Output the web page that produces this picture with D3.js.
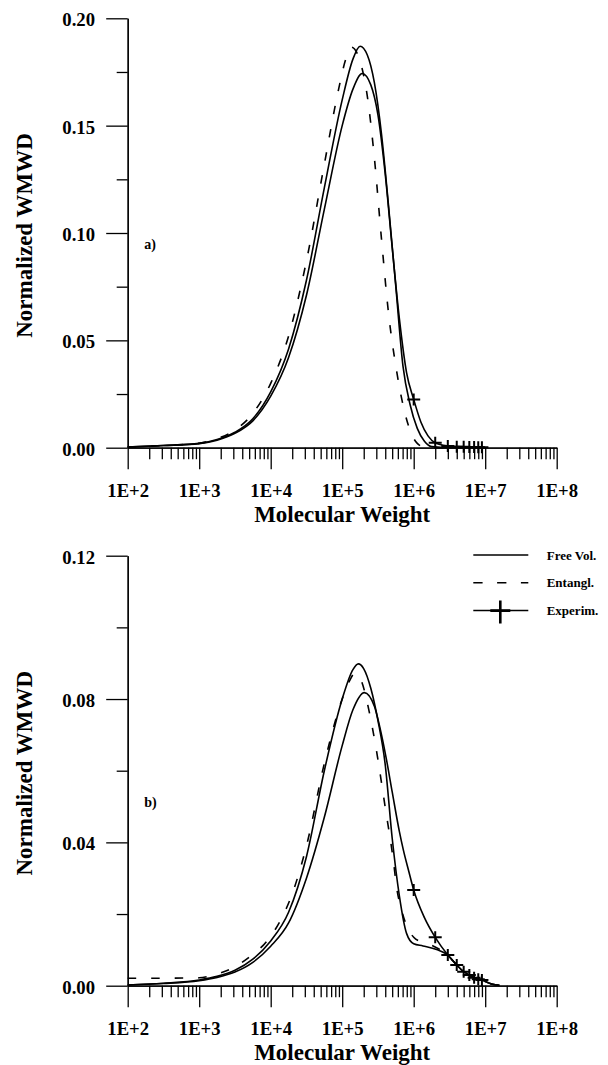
<!DOCTYPE html>
<html>
<head>
<meta charset="utf-8">
<script src="https://cdn.jsdelivr.net/npm/d3@7"></script>
<style>
  html, body { margin: 0; padding: 0; background: #fff; }
  svg { display: block; font-family: "Liberation Serif", "Times New Roman", serif; font-weight: bold; }
</style>
</head>
<body>
<svg id="chart" width="608" height="1065"></svg>
<script>
// ---- Axis tick values -------------------------------------------------
const mwMajorTicks = [1e2, 1e3, 1e4, 1e5, 1e6, 1e7, 1e8];
const yMajorTicksA = [0, 0.05, 0.10, 0.15, 0.20];
const yMinorTicksA = [0.025, 0.075, 0.125, 0.175];
const yMajorTicksB = [0, 0.04, 0.08, 0.12];
const yMinorTicksB = [0.02, 0.06, 0.10];

// ---- Panel a): log10(molecular weight) and normalized WMWD ------------
const freeA_logMW = [2.0, 2.5, 3.0, 3.25, 3.5, 3.75, 4.0, 4.25, 4.5, 4.75, 5.0, 5.15, 5.25, 5.35, 5.45, 5.55, 5.65, 5.75, 5.85, 5.95, 6.05, 6.15, 6.25, 6.5, 7.0];
const freeA_wmwd  = [0.0003, 0.001, 0.002, 0.0038, 0.0072, 0.0135, 0.026, 0.046, 0.078, 0.121, 0.162, 0.181, 0.187, 0.183, 0.170, 0.146, 0.112, 0.075, 0.038, 0.020, 0.009, 0.003, 0.0005, 0, 0];

const entA_logMW = [2.0, 2.5, 3.0, 3.25, 3.5, 3.75, 4.0, 4.25, 4.5, 4.75, 4.95, 5.05, 5.13, 5.25, 5.35, 5.45, 5.55, 5.65, 5.75, 5.85, 5.95, 6.05, 6.15, 6.3, 7.0];
const entA_wmwd  = [0.0003, 0.001, 0.0021, 0.0042, 0.0082, 0.0160, 0.030, 0.052, 0.087, 0.132, 0.167, 0.181, 0.1865, 0.180, 0.164, 0.135, 0.097, 0.062, 0.038, 0.020, 0.008, 0.002, 0.0003, 0, 0];

const expA_logMW = [2.0, 2.5, 3.0, 3.25, 3.5, 3.75, 4.0, 4.25, 4.5, 4.75, 5.0, 5.15, 5.28, 5.4, 5.5, 5.6, 5.7, 5.8, 5.9, 6.0, 6.1, 6.2, 6.301, 6.477, 6.602, 6.699, 6.778, 6.845, 6.903, 6.954, 7.0];
const expA_wmwd  = [0.0003, 0.001, 0.0019, 0.0035, 0.0067, 0.0125, 0.024, 0.042, 0.071, 0.111, 0.150, 0.167, 0.1743, 0.169, 0.155, 0.128, 0.093, 0.060, 0.035, 0.0225, 0.012, 0.0055, 0.0023, 0.0008, 0.0005, 0.0004, 0.0003, 0.0003, 0.0002, 0.0002, 0.0001];

// ---- Panel b) -----------------------------------------------------------
const freeB_logMW = [2.0, 2.5, 3.0, 3.25, 3.5, 3.75, 4.0, 4.25, 4.5, 4.75, 5.0, 5.15, 5.225, 5.3, 5.4, 5.5, 5.6, 5.7, 5.8, 5.9, 6.0, 6.13, 6.32, 6.46, 6.602, 6.699, 6.778, 6.845, 6.903, 6.954, 7.0, 7.1, 7.2];
const freeB_wmwd  = [0.0002, 0.0007, 0.0016, 0.0026, 0.0043, 0.0074, 0.0125, 0.0205, 0.036, 0.060, 0.080, 0.0882, 0.0898, 0.0885, 0.083, 0.074, 0.062, 0.041, 0.025, 0.0146, 0.0117, 0.0111, 0.0101, 0.0088, 0.0058, 0.0039, 0.003, 0.0022, 0.0018, 0.0016, 0.0012, 0.0004, 0.0001];

const entB_logMW = [2.0, 2.5, 3.0, 3.2, 3.43, 3.71, 3.94, 4.13, 4.27, 4.5, 4.75, 5.0, 5.1, 5.18, 5.27, 5.35, 5.47, 5.6, 5.72, 5.76, 5.83, 5.9, 6.0, 6.11, 6.2, 6.3, 6.46, 6.602, 6.699, 6.778, 6.845, 6.903, 6.954, 7.0, 7.1, 7.2];
const entB_wmwd  = [0.0021, 0.0021, 0.0022, 0.003, 0.0046, 0.0081, 0.0123, 0.0180, 0.0240, 0.039, 0.062, 0.080, 0.085, 0.0872, 0.085, 0.079, 0.0667, 0.050, 0.0342, 0.0276, 0.0211, 0.0168, 0.0135, 0.0122, 0.0117, 0.0108, 0.0088, 0.0058, 0.0039, 0.003, 0.0022, 0.0018, 0.0016, 0.0012, 0.0004, 0.0001];

const expB_logMW = [2.0, 2.5, 3.0, 3.25, 3.5, 3.75, 4.0, 4.25, 4.5, 4.75, 5.0, 5.15, 5.31, 5.45, 5.55, 5.62, 5.7, 5.8, 5.855, 5.93, 6.0, 6.15, 6.301, 6.477, 6.602, 6.699, 6.778, 6.845, 6.903, 6.954, 7.0, 7.1, 7.2];
const expB_wmwd  = [0.0002, 0.0006, 0.0014, 0.0023, 0.0038, 0.0065, 0.011, 0.0175, 0.030, 0.047, 0.067, 0.077, 0.0818, 0.078, 0.070, 0.063, 0.054, 0.043, 0.0379, 0.032, 0.0267, 0.019, 0.0135, 0.0086, 0.0058, 0.0039, 0.003, 0.0022, 0.0018, 0.0016, 0.0012, 0.0004, 0.0001];

// Experimental points that carry a "+" marker: 1E+6, 2E+6 ... 9E+6
const expMarkerLogMW = [6.0, 6.301, 6.477, 6.602, 6.699, 6.778, 6.845, 6.903, 6.954];

const legendLabels = ["Free Vol.", "Entangl.", "Experim."];

// ---- Drawing ------------------------------------------------------------
const svg = d3.select("#chart");
const INK = "#000";
const FS_TICK = 18.7, FS_TITLE = 23;

const x = d3.scaleLog().domain([1e2, 1e8]).range([127.7, 556.7]);

// minor log ticks 2..9 x 10^k inside the domain
const mwMinorTicks = [];
mwMajorTicks.slice(0, -1).forEach(d => { for (let m = 2; m <= 9; m++) mwMinorTicks.push(m * d); });

const toPts = (lm, v) => lm.map((e, i) => ({ lm: e, mw: Math.pow(10, e), v: v[i] }));

function styleAxis(g) {
  g.selectAll("path.domain").attr("stroke", INK).attr("stroke-width", 1.3);
  g.selectAll(".tick line").attr("stroke", INK).attr("stroke-width", 1.3);
}

function drawPanel(opt) {
  const y = d3.scaleLinear().domain(opt.yDomain).range(opt.yRange);
  const y0 = y(0);
  const g = svg.append("g");

  // x axis: minor + major ticks hanging below the baseline
  const gxMinor = g.append("g").attr("transform", `translate(0,${y0})`)
    .call(d3.axisBottom(x).tickValues(mwMinorTicks).tickSize(11.5).tickSizeOuter(0).tickFormat(""));
  styleAxis(gxMinor);
  const gx = g.append("g").attr("transform", `translate(0,${y0})`)
    .call(d3.axisBottom(x).tickValues(mwMajorTicks).tickSize(21.5).tickSizeOuter(0)
      .tickFormat(d => "1E+" + Math.round(Math.log10(d))));
  styleAxis(gx);
  gx.selectAll(".tick text")
    .attr("y", 49.3).attr("dy", null)
    .attr("fill", INK).attr("font-size", FS_TICK)
    .attr("font-family", "Liberation Serif, serif").attr("font-weight", "bold");

  // y axis: ticks pointing left
  const gyMinor = g.append("g").attr("transform", `translate(${x(1e2)},0)`)
    .call(d3.axisLeft(y).tickValues(opt.yMinor).tickSize(11).tickSizeOuter(0).tickFormat(""));
  styleAxis(gyMinor);
  const gy = g.append("g").attr("transform", `translate(${x(1e2)},0)`)
    .call(d3.axisLeft(y).tickValues(opt.yMajor).tickSize(21.5).tickSizeOuter(0).tickFormat(d3.format(".2f")));
  styleAxis(gy);
  gy.selectAll(".tick text")
    .attr("x", -32.7).attr("dy", "0.4em")
    .attr("fill", INK).attr("font-size", FS_TICK)
    .attr("font-family", "Liberation Serif, serif").attr("font-weight", "bold");

  // axis titles
  g.append("text")
    .attr("x", (x.range()[0] + x.range()[1]) / 2).attr("y", y0 + 74)
    .attr("text-anchor", "middle").attr("font-size", FS_TITLE).attr("fill", INK)
    .text("Molecular Weight");
  const ymid = (opt.yRange[0] + opt.yRange[1]) / 2 + 2.5;
  g.append("text")
    .attr("transform", `translate(31.7,${ymid}) rotate(-90)`)
    .attr("text-anchor", "middle").attr("font-size", FS_TITLE).attr("fill", INK)
    .text("Normalized WMWD");

  // panel tag
  g.append("text").attr("x", 144.3).attr("y", opt.tagY)
    .attr("font-size", 14).attr("fill", INK).text(opt.tag);

  // curves
  const line = d3.line().x(d => x(d.mw)).y(d => y(d.v)).curve(d3.curveMonotoneX);
  const curves = g.append("g").attr("fill", "none").attr("stroke", INK).attr("stroke-width", 1.6);
  curves.append("path").attr("d", line(opt.free));
  curves.append("path").attr("d", line(opt.ent)).attr("stroke-dasharray", "8.5,15");
  curves.append("path").attr("d", line(opt.exp));

  // experimental markers
  g.append("g").selectAll("path")
    .data(opt.exp.filter(d => expMarkerLogMW.includes(d.lm)))
    .join("path")
    .attr("transform", d => `translate(${x(d.mw)},${y(d.v)})`)
    .attr("d", "M-6.5,0H6.5M0,-6V6")
    .attr("stroke", INK).attr("stroke-width", 2).attr("fill", "none");

  return { y, g };
}

drawPanel({
  yDomain: [0, 0.20], yRange: [447.7, 18.3],
  yMajor: yMajorTicksA, yMinor: yMinorTicksA,
  tag: "a)", tagY: 249,
  free: toPts(freeA_logMW, freeA_wmwd),
  ent: toPts(entA_logMW, entA_wmwd),
  exp: toPts(expA_logMW, expA_wmwd)
});

drawPanel({
  yDomain: [0, 0.12], yRange: [985.7, 555.7],
  yMajor: yMajorTicksB, yMinor: yMinorTicksB,
  tag: "b)", tagY: 807,
  free: toPts(freeB_logMW, freeB_wmwd),
  ent: toPts(entB_logMW, entB_wmwd),
  exp: toPts(expB_logMW, expB_wmwd)
});

// legend (panel b)
const legend = svg.append("g").attr("transform", "translate(473.3,555)");
const rowGap = 27.8;
legendLabels.forEach((lab, i) => {
  const row = legend.append("g").attr("transform", `translate(0,${i * rowGap})`);
  const ln = row.append("line").attr("x1", 0).attr("x2", 55).attr("y1", 0).attr("y2", 0)
    .attr("stroke", INK).attr("stroke-width", 1.5);
  if (i === 1) ln.attr("stroke-dasharray", "9.3,14.5");
  if (i === 2) {
    row.append("path").attr("d", "M17,0H37M27,-10V13")
      .attr("stroke", INK).attr("stroke-width", 2.6).attr("fill", "none");
  }
  row.append("text").attr("x", 73.4).attr("y", 4.5)
    .attr("font-size", 13).attr("fill", INK).text(lab);
});
</script>
</body>
</html>
